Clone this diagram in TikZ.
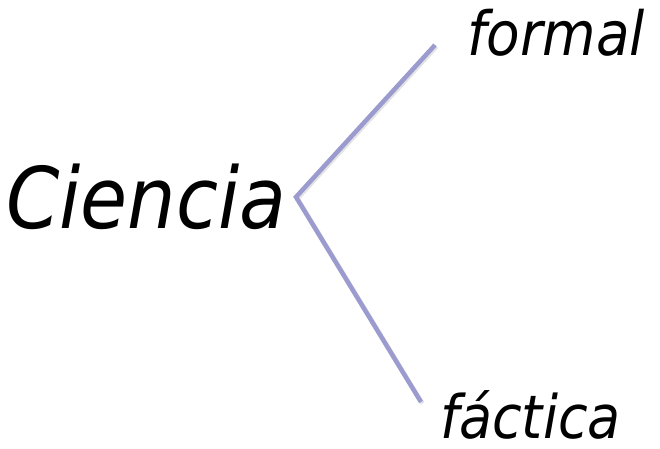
\documentclass[tikz,border=0pt]{standalone}
\usepackage{fontspec}
\setmainfont{DejaVu Sans Condensed}[ItalicFont={DejaVu Sans Condensed Oblique}]
\definecolor{branch}{HTML}{9B9BCF}
\tikzset{
  lbl/.style={inner sep=0pt, anchor=base west, text depth=0pt, font=\itshape},
  br/.style={draw=branch, line width=4.5pt, line cap=butt, line join=miter}
}
\begin{document}
\begin{tikzpicture}[x=1pt,y=-1pt]
\useasboundingbox (0,0) rectangle (660,448);
\node[lbl, font=\itshape\fontsize{85}{85}\selectfont] (c) at (6,228) {Ciencia};
\node[lbl, font=\itshape\fontsize{61}{61}\selectfont] (f) at (467,55) {formal};
\node[lbl, font=\itshape\fontsize{60}{60}\selectfont] (k) at (440,438) {fáctica};
\coordinate (v) at (296,197);
\coordinate (t) at (435,45);
\coordinate (b) at (421,402);
\draw[br, draw=gray!35, opacity=0.6] ([shift={(1.5,1.5)}]t) -- ([shift={(1.5,1.5)}]v) -- ([shift={(1.5,1.5)}]b);
\draw[br] (t) -- (v) -- (b);
\end{tikzpicture}
\end{document}
